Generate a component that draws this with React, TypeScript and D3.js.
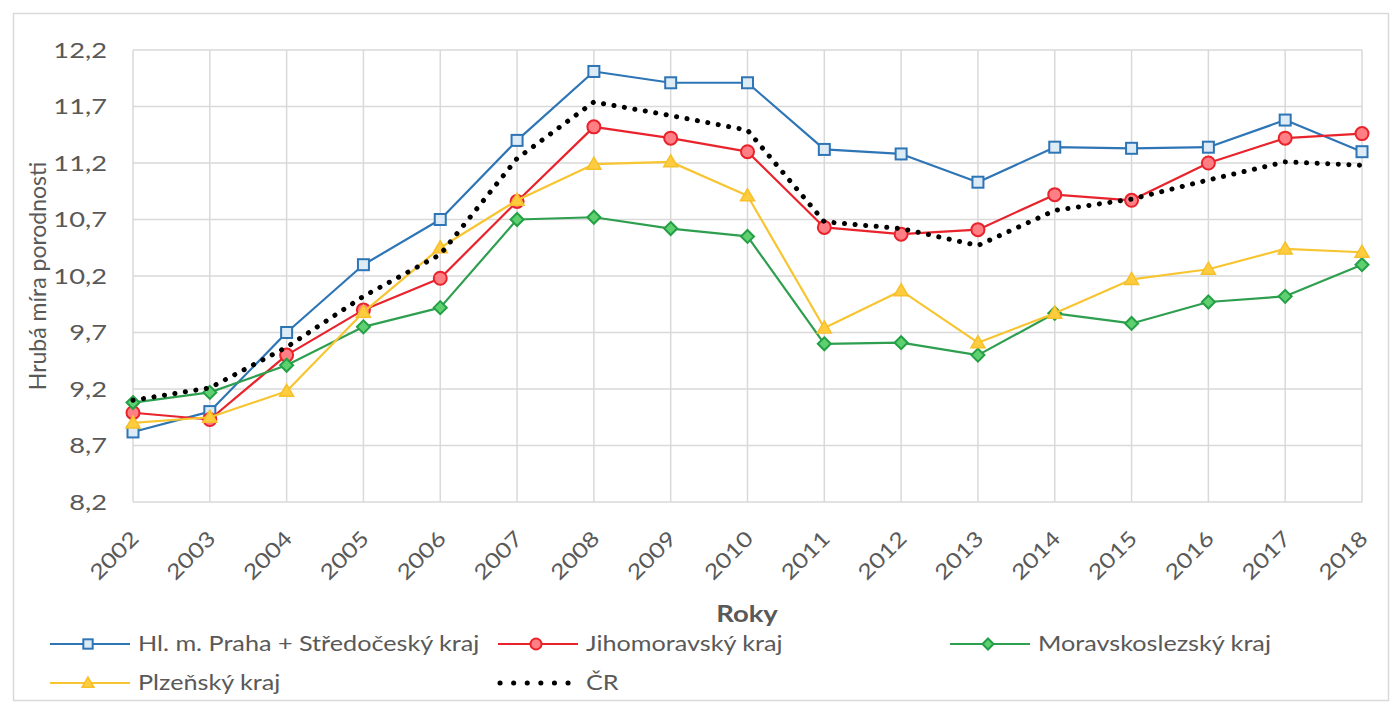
import React from "react";
import * as d3 from "d3";

const years = ["2002","2003","2004","2005","2006","2007","2008","2009","2010","2011","2012","2013","2014","2015","2016","2017","2018"];
const praha = [8.82, 9.0, 9.7, 10.3, 10.7, 11.4, 12.01, 11.91, 11.91, 11.32, 11.28, 11.03, 11.34, 11.33, 11.34, 11.58, 11.3];
const jihomoravsky = [8.99, 8.93, 9.5, 9.9, 10.18, 10.86, 11.52, 11.42, 11.3, 10.63, 10.57, 10.61, 10.92, 10.87, 11.2, 11.42, 11.46];
const moravskoslezsky = [9.08, 9.17, 9.41, 9.75, 9.92, 10.7, 10.72, 10.62, 10.55, 9.6, 9.61, 9.5, 9.87, 9.78, 9.97, 10.02, 10.3];
const plzensky = [8.9, 8.95, 9.18, 9.88, 10.45, 10.87, 11.19, 11.21, 10.91, 9.74, 10.07, 9.61, 9.87, 10.17, 10.26, 10.44, 10.41];
const cr = [9.1, 9.21, 9.57, 10.02, 10.39, 11.24, 11.74, 11.62, 11.49, 10.68, 10.62, 10.47, 10.78, 10.88, 11.05, 11.21, 11.18];
const yTicks = [8.2, 8.7, 9.2, 9.7, 10.2, 10.7, 11.2, 11.7, 12.2];
const seriesNames = ["Hl. m. Praha + Středočeský kraj", "Jihomoravský kraj", "Moravskoslezský kraj", "Plzeňský kraj", "ČR"];

const FONT = "Lato, 'Open Sans', sans-serif";
const TEXT = "#595959";

type Marker = "square" | "circle" | "diamond" | "triangle" | "none";
const seriesDefs: { name: string; values: number[]; stroke: string; fill: string; markerStroke: string; marker: Marker; dotted?: boolean }[] = [
  { name: seriesNames[0], values: praha, stroke: "#2E75B6", fill: "#DDEBF7", markerStroke: "#2E75B6", marker: "square" },
  { name: seriesNames[1], values: jihomoravsky, stroke: "#E8232B", fill: "#FF7F84", markerStroke: "#E8232B", marker: "circle" },
  { name: seriesNames[2], values: moravskoslezsky, stroke: "#2E9E4F", fill: "#5FD070", markerStroke: "#23A045", marker: "diamond" },
  { name: seriesNames[3], values: plzensky, stroke: "#F7C531", fill: "#FFCC40", markerStroke: "#F5C02A", marker: "triangle" },
  { name: seriesNames[4], values: cr, stroke: "#000000", fill: "none", markerStroke: "none", marker: "none", dotted: true },
];

function MarkerShape({ type, x, y, fill, stroke, k = 1 }: { type: Marker; x: number; y: number; fill: string; stroke: string; k?: number }) {
  if (type === "square") return <rect x={x - 5.5 * k} y={y - 5.5 * k} width={11 * k} height={11 * k} fill={fill} stroke={stroke} strokeWidth={2} />;
  if (type === "circle") return <circle cx={x} cy={y} r={6.5 * k} fill={fill} stroke={stroke} strokeWidth={2} />;
  if (type === "diamond") return <path d={`M${x},${y - 6.5 * k}L${x + 6.5 * k},${y}L${x},${y + 6.5 * k}L${x - 6.5 * k},${y}Z`} fill={fill} stroke={stroke} strokeWidth={2} />;
  if (type === "triangle") return <path d={`M${x},${y - 7 * k}L${x + 7 * k},${y + 5 * k}L${x - 7 * k},${y + 5 * k}Z`} fill={fill} stroke={stroke} strokeWidth={1.5} />;
  return null;
}

export default function App() {
  const W = 1392, H = 706;
  const left = 133, right = 1362, top = 50, bottom = 502;
  const x = d3.scalePoint<string>().domain(years).range([left, right]);
  const y = d3.scaleLinear().domain([8.2, 12.2]).range([bottom, top]);
  const line = d3.line<number>().x((_, i) => x(years[i]) as number).y((d) => y(d));
  const fmt = (v: number) => v.toFixed(1).replace(".", ",");
  const SX = 1.2;

  const legendItems = [
    { s: seriesDefs[0], lx: 50, ly: 644 },
    { s: seriesDefs[1], lx: 498, ly: 644 },
    { s: seriesDefs[2], lx: 950, ly: 644 },
    { s: seriesDefs[3], lx: 50, ly: 683 },
    { s: seriesDefs[4], lx: 498, ly: 683 },
  ];

  return (
    <div style={{ position: "absolute", left: 0, top: 0 }}>
      <svg width={W} height={H} style={{ display: "block", fontFamily: FONT }}>
        <rect x={0} y={0} width={W} height={H} fill="#ffffff" />
        <rect x={13.5} y={13.5} width={1375} height={687} fill="#ffffff" stroke="#D9D9D9" strokeWidth={1.5} />
        {/* gridlines */}
        {yTicks.map((t) => (
          <line key={"h" + t} x1={left} x2={right} y1={y(t)} y2={y(t)} stroke="#D9D9D9" strokeWidth={1.5} />
        ))}
        {years.map((yr) => (
          <line key={"v" + yr} x1={x(yr)} x2={x(yr)} y1={top} y2={bottom} stroke="#D9D9D9" strokeWidth={1.5} />
        ))}
        {/* y tick labels */}
        {yTicks.map((t) => (
          <text key={"yt" + t} transform={`translate(107,${y(t)}) scale(1.24,1)`} dy="0.35em" textAnchor="end" fontSize={22} fill={TEXT}>{fmt(t)}</text>
        ))}
        {/* x tick labels */}
        {years.map((yr) => (
          <text key={"xt" + yr} transform={`translate(${(x(yr) as number) + 7},${bottom + 38}) rotate(-45) scale(${SX},1)`} textAnchor="end" fontSize={21} fill={TEXT}>{yr}</text>
        ))}
        {/* axis titles */}
        <text transform={`translate(46,${(top + bottom) / 2}) rotate(-90)`} textAnchor="middle" fontSize={23} fill={TEXT}>Hrubá míra porodnosti</text>
        <text transform={`translate(747,622) scale(1.25,1)`} textAnchor="middle" fontSize={22} fontWeight="bold" fill={TEXT}>Roky</text>
        {/* series */}
        {seriesDefs.map((s) => (
          <g key={s.name}>
            <path
              d={line(s.values) || ""}
              fill="none"
              stroke={s.stroke}
              strokeWidth={s.dotted ? 5 : 2.2}
              strokeDasharray={s.dotted ? "0.1 10.5" : undefined}
              strokeLinecap={s.dotted ? "round" : "butt"}
              strokeLinejoin="round"
            />
            {s.values.map((v, i) => (
              <MarkerShape key={i} type={s.marker} x={x(years[i]) as number} y={y(v)} fill={s.fill} stroke={s.markerStroke} />
            ))}
          </g>
        ))}
        {/* legend */}
        {legendItems.map(({ s, lx, ly }) => (
          <g key={"lg" + s.name}>
            <line x1={s.dotted ? lx + 2 : lx} x2={lx + 80} y1={ly} y2={ly} stroke={s.stroke} strokeWidth={s.dotted ? 5 : 2.2}
              strokeDasharray={s.dotted ? "0.1 13.5" : undefined} strokeLinecap={s.dotted ? "round" : "butt"} />
            <MarkerShape type={s.marker} x={lx + 38} y={ly} fill={s.fill} stroke={s.markerStroke} k={0.85} />
            <text transform={`translate(${lx + 88},${ly}) scale(1.2,1)`} dy="0.35em" fontSize={21} fill={TEXT}>{s.name}</text>
          </g>
        ))}
      </svg>
    </div>
  );
}
